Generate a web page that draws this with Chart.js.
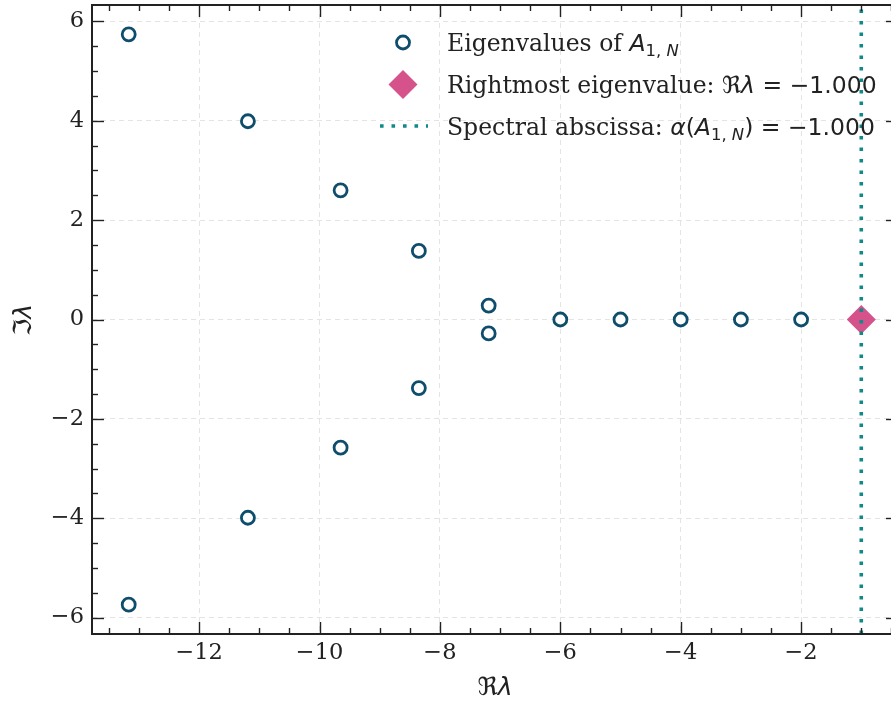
<!DOCTYPE html>
<html><head><meta charset="utf-8">
<script src="https://cdn.jsdelivr.net/npm/chart.js@4.4.1/dist/chart.umd.min.js"></script>
<style>html,body{margin:0;padding:0;background:#fff;overflow:hidden;width:891px;height:702px}canvas{display:block}</style>
</head><body>
<canvas id="c" width="900" height="702"></canvas>
<script>
// ---- data ----
const eigReal = [-13.17, -13.17, -11.19, -11.19, -9.65, -9.65, -8.35, -8.35, -7.19, -7.19, -6, -5, -4, -3, -2];
const eigImag = [5.74, -5.74, 3.99, -3.99, 2.60, -2.58, 1.38, -1.38, 0.28, -0.28, 0, 0, 0, 0, 0];
const rightmostReal = [-1.0];
const rightmostImag = [0.0];
const spectralAbscissa = -1.0;
const xLimits = [-13.78, -0.39];
const yLimits = [-6.33, 6.33];
const majorStep = 2;
const minorStep = 0.5;
const legendLabels = [
  [{t:'Eigenvalues of '}, {t:'A', sans:1, it:1}, {t:'1, ', sans:1, sub:1}, {t:'N', sans:1, it:1, sub:1}],
  [{t:'Rightmost eigenvalue: '}, {t:'ℜ', sans:1}, {t:'λ', sans:1, it:1}, {t:' = −1.000', sans:1}],
  [{t:'Spectral abscissa: '}, {t:'α', sans:1, it:1}, {t:'(', sans:1}, {t:'A', sans:1, it:1}, {t:'1, ', sans:1, sub:1}, {t:'N', sans:1, it:1, sub:1}, {t:') = −1.000', sans:1}]
];
const xTitle = [{t:'ℜ', sans:1}, {t:'λ', sans:1, it:1}];
const yTitle = [{t:'ℑ', sans:1}, {t:'λ', sans:1, it:1}];

const COL_EIG = '#0f4d6c';
const COL_RM = '#d5528a';
const COL_SA = '#11898a';
const SERIF = '"DejaVu Serif", serif';
const SANS = '"DejaVu Sans", sans-serif';
const FS = 22.5;
const LFS = 23.5;

const fmt = v => (v < 0 ? '\u2212' + Math.abs(v) : String(v));

function richWidth(ctx, segs, size){
  let w = 0;
  for (const s of segs){ const fs = s.sub ? size*0.7 : size; ctx.font = (s.it?'italic ':'') + fs + 'px ' + (s.sans?SANS:SERIF); w += ctx.measureText(s.t).width; }
  return w;
}
function drawRich(ctx, segs, x, y, size){
  let cx = x;
  ctx.textBaseline = 'alphabetic'; ctx.textAlign = 'left';
  for (const s of segs){
    const fs = s.sub ? size*0.7 : size;
    const dy = s.sub ? size*0.22 : 0;
    ctx.font = (s.it?'italic ':'') + fs + 'px ' + (s.sans?SANS:SERIF);
    ctx.fillText(s.t, cx, y + dy);
    cx += ctx.measureText(s.t).width;
  }
}

const decor = {
  id: 'decor',
  afterDraw(chart){
    const {ctx, chartArea: a, scales: {x, y}} = chart;
    ctx.save();
    ctx.strokeStyle = '#222';
    const line = (x1,y1,x2,y2) => { ctx.beginPath(); ctx.moveTo(x1,y1); ctx.lineTo(x2,y2); ctx.stroke(); };
    ctx.lineWidth = 1.4;
    const ticks = (scale, horiz) => {
      const start = Math.ceil(scale.min / minorStep) * minorStep;
      for (let v = start; v <= scale.max + 1e-9; v += minorStep){
        const isMajor = Math.abs(v / majorStep - Math.round(v / majorStep)) < 1e-6;
        const len = isMajor ? 12 : 6;
        const p = Math.round(scale.getPixelForValue(v)) + 0.5;
        if (horiz){ line(p, a.bottom, p, a.bottom - len); line(p, a.top, p, a.top + len); }
        else { line(a.left, p, a.left + len, p); line(a.right, p, a.right - len, p); }
      }
    };
    ticks(x, true); ticks(y, false);
    ctx.lineWidth = 2;
    ctx.strokeRect(a.left, a.top, a.right - a.left, a.bottom - a.top);

    // legend
    const mx = 403, tx = 447;
    const rows = [42.5, 84.5, 126];
    const ds = chart.data.datasets;
    ctx.beginPath(); ctx.arc(mx, rows[0], ds[0].pointRadius, 0, Math.PI*2);
    ctx.fillStyle = ds[0].pointBackgroundColor; ctx.fill();
    ctx.lineWidth = ds[0].pointBorderWidth; ctx.strokeStyle = ds[0].pointBorderColor; ctx.stroke();
    const r = ds[1].pointRadius;
    ctx.beginPath(); ctx.moveTo(mx - r, rows[1]); ctx.lineTo(mx, rows[1] - r); ctx.lineTo(mx + r, rows[1]); ctx.lineTo(mx, rows[1] + r); ctx.closePath();
    ctx.fillStyle = ds[1].pointBackgroundColor; ctx.fill();
    ctx.setLineDash(ds[2].borderDash); ctx.lineWidth = ds[2].borderWidth; ctx.strokeStyle = ds[2].borderColor; ctx.lineCap = 'butt';
    line(380, rows[2], 428, rows[2]);
    ctx.setLineDash([]);
    ctx.fillStyle = '#222';
    legendLabels.forEach((segs, i) => drawRich(ctx, segs, tx, rows[i] + 8.5, LFS));

    // axis titles
    const TS = 25;
    const wx = richWidth(ctx, xTitle, TS);
    drawRich(ctx, xTitle, (a.left + a.right)/2 - wx/2, 695, TS);
    ctx.save();
    ctx.translate(31, 320);
    ctx.rotate(-Math.PI/2);
    const wy = richWidth(ctx, yTitle, TS);
    drawRich(ctx, yTitle, -wy/2, 0, TS);
    ctx.restore();
    ctx.restore();
  }
};

new Chart(document.getElementById('c'), {
  type: 'scatter',
  data: {
    datasets: [
      { label: 'Eigenvalues', data: eigReal.map((v,i)=>({x:v, y:eigImag[i]})),
        pointStyle: 'circle', pointRadius: 6.5, pointBorderWidth: 2.8,
        pointBackgroundColor: '#ffffff', pointBorderColor: COL_EIG, order: 3 },
      { label: 'Rightmost', data: rightmostReal.map((v,i)=>({x:v, y:rightmostImag[i]})),
        pointStyle: 'rectRot', pointRadius: 14.5, pointBorderWidth: 0,
        pointBackgroundColor: COL_RM, pointBorderColor: COL_RM, order: 2 },
      { label: 'Spectral abscissa', type: 'line',
        data: [{x: spectralAbscissa, y: yLimits[0]}, {x: spectralAbscissa, y: yLimits[1]}],
        borderColor: COL_SA, borderWidth: 3.6, borderDash: [3.6, 7.9], pointRadius: 0, showLine: true, fill: false, order: 1 }
    ]
  },
  options: {
    responsive: false, animation: false, devicePixelRatio: 1,
    layout: { autoPadding: false, padding: { top: 5, right: 2, left: 0, bottom: 0 } },
    plugins: { legend: { display: false }, tooltip: { enabled: false } },
    scales: {
      x: { type: 'linear', position: 'bottom', min: xLimits[0], max: xLimits[1],
        afterFit: s => { s.height = 68; s.paddingLeft = 0; s.paddingRight = 0; },
        ticks: { stepSize: majorStep, includeBounds: false, padding: 6, color: '#222', font: { family: SERIF, size: FS }, callback: fmt, maxRotation: 0 },
        grid: { color: '#e4e4e4', lineWidth: 1, drawTicks: false },
        border: { display: false, dash: [5, 4] } },
      y: { type: 'linear', min: yLimits[0], max: yLimits[1],
        afterFit: s => { s.width = 92; s.paddingTop = 0; s.paddingBottom = 0; },
        ticks: { stepSize: majorStep, includeBounds: false, padding: 8, color: '#222', font: { family: SERIF, size: FS }, callback: fmt },
        grid: { color: '#e4e4e4', lineWidth: 1, drawTicks: false },
        border: { display: false, dash: [5, 4] } }
    }
  },
  plugins: [decor]
});
</script>
</body></html>
